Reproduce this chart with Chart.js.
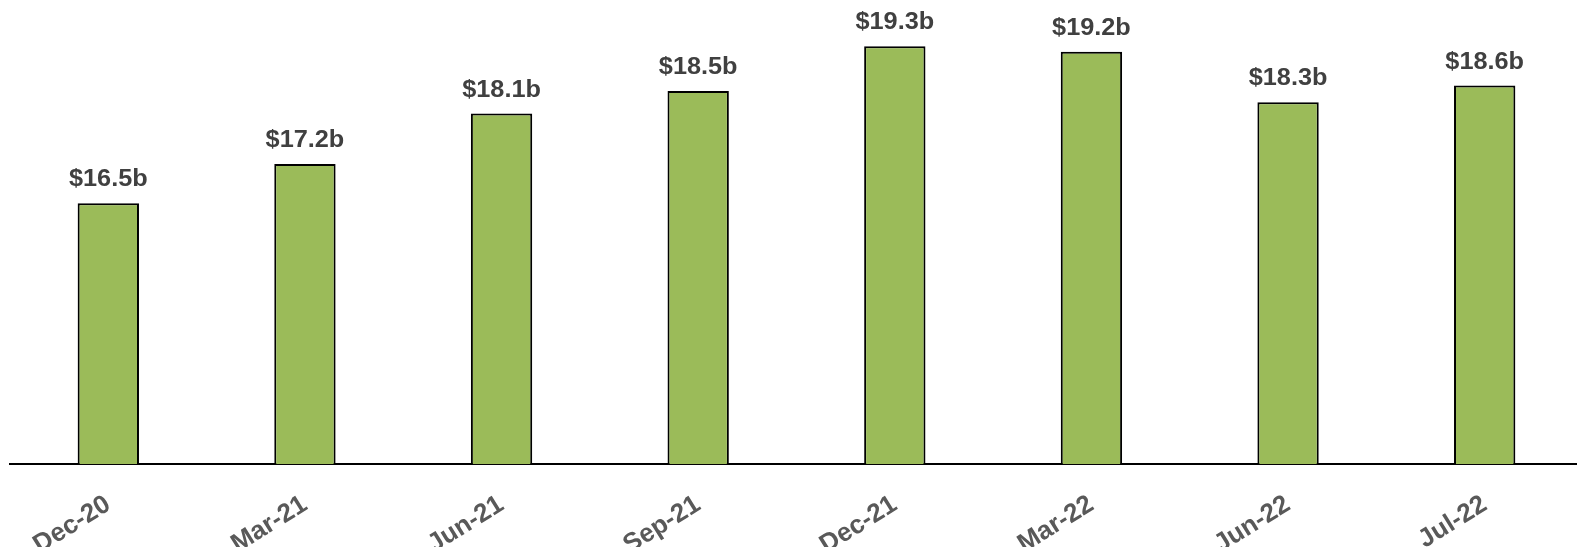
<!DOCTYPE html>
<html>
<head>
<meta charset="utf-8">
<script src="https://cdn.jsdelivr.net/npm/chart.js@4"></script>
<style>
  html, body { margin: 0; padding: 0; background: #fff; overflow: hidden; }
  #wrap { width: 1590px; height: 547px; position: relative; }
</style>
</head>
<body>
<div id="wrap"><canvas id="myChart"></canvas></div>
<script>
let ctx = document.getElementById('myChart');

// quarter ends and total value in $ billions
const months = ['Dec-20', 'Mar-21', 'Jun-21', 'Sep-21', 'Dec-21', 'Mar-22', 'Jun-22', 'Jul-22'];
const values = [16.5, 17.2, 18.1, 18.5, 19.3, 19.2, 18.3, 18.6];

// writes "$xx.xb" above each bar
const valueLabels = {
    id: 'valueLabels',
    afterDatasetsDraw(chart) {
        const c = chart.ctx;
        const meta = chart.getDatasetMeta(0);
        c.save();
        c.font = 'bold 23px "Liberation Sans", Arial, sans-serif';
        c.fillStyle = '#404040';
        c.textAlign = 'center';
        c.textBaseline = 'alphabetic';
        meta.data.forEach(function(bar, i){
            c.save();
            c.translate(bar.x, bar.y - 17);
            c.scale(1.1, 1);
            c.fillText('$' + values[i].toFixed(1) + 'b', 0, 0);
            c.restore();
        });
        c.restore();
    }
};

let myChart = new Chart(ctx, {
    type: 'bar',
    data: {
        labels: months,
        datasets: [{
            data: values,
            backgroundColor: '#9BBB59',
            borderColor: '#000000',
            borderWidth: 2,
            categoryPercentage: 1,
            barPercentage: 0.312
        }]
    },
    options: {
        responsive: true,
        maintainAspectRatio: false,
        animation: false,
        layout: {
            padding: { left: 10, right: 7, top: 7, bottom: 0 }
        },
        plugins: {
            legend: { display: false },
            tooltip: { enabled: false }
        },
        scales: {
            x: {
                grid: { display: false },
                border: { display: true, color: '#000000', width: 2 },
                ticks: {
                    color: '#595959',
                    font: { family: '"Liberation Sans", Arial, sans-serif', size: 26, weight: 'bold' },
                    minRotation: 32,
                    maxRotation: 32,
                    padding: 17
                },
                afterFit(scale) { scale.height = 83; }
            },
            y: {
                display: false,
                min: 11.85,
                max: 20
            }
        }
    },
    plugins: [valueLabels]
});
</script>
</body>
</html>
